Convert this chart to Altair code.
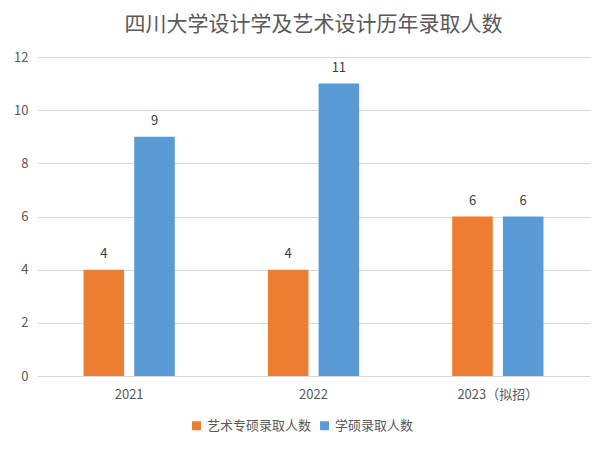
import altair as alt
import pandas as pd

years = ["2021", "2022", "2023（拟招）"]
series = ["艺术专硕录取人数", "学硕录取人数"]
art_values = [4, 4, 6]
academic_values = [9, 11, 6]
colors = ["#ED7D31", "#5B9BD5"]
y_ticks = [0, 2, 4, 6, 8, 10, 12]

rows = []
for i, yr in enumerate(years):
    rows.append({"year": yr, "series": series[0], "value": art_values[i]})
    rows.append({"year": yr, "series": series[1], "value": academic_values[i]})
df = pd.DataFrame(rows)

FONT = "Noto Sans CJK SC"

x_enc = alt.X(
    "year:N", sort=years, title=None,
    scale=alt.Scale(paddingInner=0.45, paddingOuter=0.225),
    axis=alt.Axis(labelAngle=0, ticks=False, domain=True, domainColor="#D9D9D9",
                  labelColor="#595959", labelFontSize=13, labelFont=FONT, labelPadding=12),
)
xoff_enc = alt.XOffset("series:N", sort=series,
                       scale=alt.Scale(paddingInner=0.2, paddingOuter=0.1))
y_enc = alt.Y(
    "value:Q", title=None,
    scale=alt.Scale(domain=[0, 12], nice=False),
    axis=alt.Axis(values=y_ticks, ticks=False, domain=False, gridColor="#D9D9D9",
                  labelColor="#595959", labelFontSize=13, labelFont=FONT, labelPadding=9),
)

base = alt.Chart(df)

bars = base.mark_bar().encode(
    x=x_enc, xOffset=xoff_enc, y=y_enc,
    color=alt.Color("series:N", sort=series,
                    scale=alt.Scale(domain=series, range=colors),
                    legend=alt.Legend(title=None, orient="none", direction="horizontal",
                                      legendX=153, legendY=362,
                                      symbolType="square", symbolSize=80,
                                      labelFontSize=13, labelColor="#595959", labelFont=FONT,
                                      columnPadding=6, symbolStrokeWidth=0)),
)

labels = base.mark_text(baseline="middle", dy=-16, fontSize=13, color="#404040", font=FONT).encode(
    x=alt.X("year:N", sort=years), xOffset=alt.XOffset("series:N", sort=series),
    y="value:Q", text="value:Q",
)

chart = alt.layer(bars, labels).properties(
    width=553, height=319,
    title=alt.TitleParams("四川大学设计学及艺术设计历年录取人数", fontSize=21, font=FONT,
                          fontWeight="normal", color="#595959", anchor="middle", offset=16),
    padding={"left": 5, "top": 6, "right": 2, "bottom": 5},
).configure_view(stroke=None).configure_axis(grid=True).configure_axisX(grid=False)

chart.save("out.html", embed_options={"renderer": "svg", "actions": False})
